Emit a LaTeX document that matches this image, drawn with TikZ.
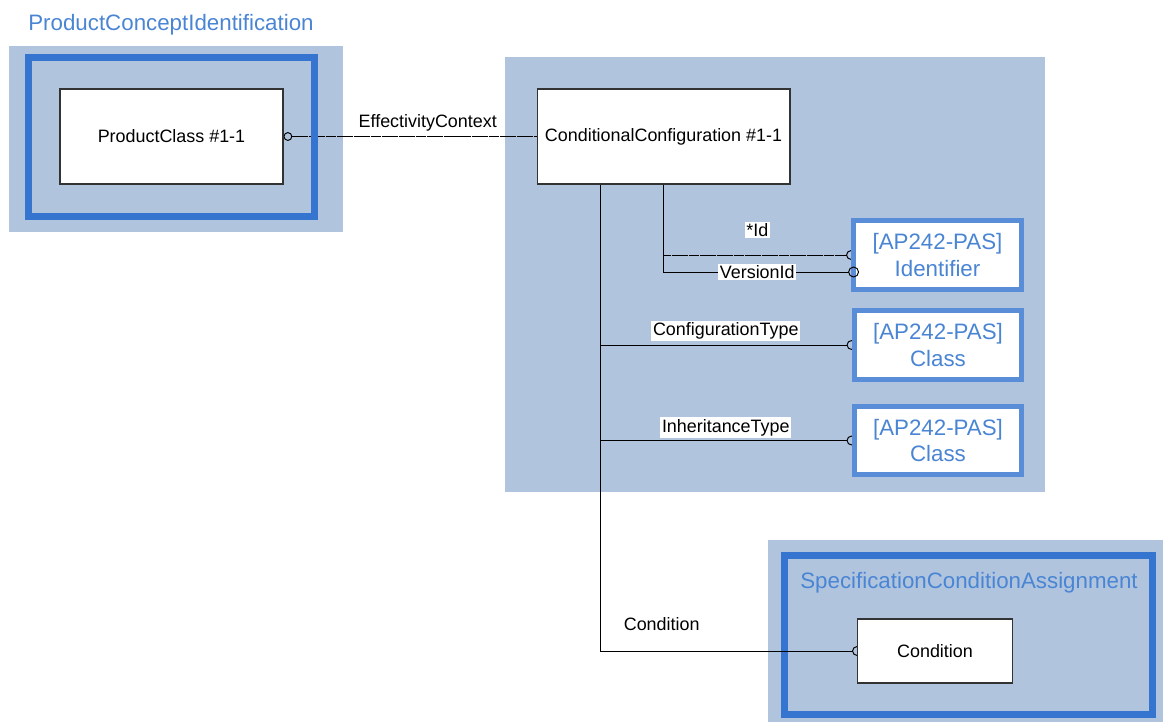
\documentclass[tikz,border=0pt]{standalone}
\usepackage{fontspec}
\setmainfont{Liberation Sans}
\usetikzlibrary{arrows.meta}
\definecolor{PCIback}{HTML}{B0C4DE}
\definecolor{PCIframe}{HTML}{3575D0}
\definecolor{PCIref}{HTML}{5A8DD8}
\definecolor{PCItext}{HTML}{4A85D4}
\pgfdeclarelayer{bg}
\pgfdeclarelayer{wires}
\pgfsetlayers{bg,wires,main}

\begin{document}
\begin{tikzpicture}[
  x=0.02cm, y=-0.02cm,
  entity/.style={draw=black!80, fill=white, line width=0.6pt,
    minimum height=1.9cm, font=\fontsize{10.2}{12}\selectfont},
  refbox/.style={draw=PCIref, fill=white, line width=0.1cm,
    minimum width=3.36cm, minimum height=1.38cm, align=center,
    text=PCItext, font=\fontsize{12.7}{15}\selectfont, inner sep=1pt},
  group/.style={fill=PCIback},
  frame/.style={draw=PCIframe, line width=0.14cm},
  title/.style={text=PCItext, font=\fontsize{12.7}{15}\selectfont},
  wire/.style={line width=0.55pt},
  optwire/.style={wire, dash pattern=on 3pt off 0.2pt},
  tag/.style={font=\fontsize{10.2}{12}\selectfont, fill=white, inner sep=1pt},
  half/.style={-{Circle[open, length=5.6pt, width=5.6pt]}, shorten >=-2.8pt}
]
\useasboundingbox (0,0) rectangle (1163,722);

% groups and their titles
\node[title] (pcititle) at (171,25) {ProductConceptIdentification};
\node[title] (scatitle) at (969,583) {SpecificationConditionAssignment};

% entities
\node[entity, minimum width=4.46cm] (pc) at (171.5,136.5) {ProductClass \#1-1};
\node[entity, minimum width=5.06cm] (cc) at (663.5,136.5) {ConditionalConfiguration \#1-1};
\node[entity, minimum width=3.1cm, minimum height=1.28cm] (cond) at (935,651) {Condition};
\node[refbox] (ident) at (937.5,255) {[AP242-PAS]\\Identifier};
\node[refbox] (class1) at (938,345) {[AP242-PAS]\\Class};
\node[refbox] (class2) at (938,440.5) {[AP242-PAS]\\Class};

\coordinate (trunk) at (600,184);

\begin{pgfonlayer}{bg}
  \fill[group] (9,46) rectangle (343,232);
  \fill[group] (505,57) rectangle (1045,492);
  \fill[group] (768,540) rectangle (1163,722);
  \draw[optwire, {Circle[open, length=5pt, width=5pt]}-] (pc.east) --
    node[tag, above=2pt, pos=0.57, fill=none] (effctx) {EffectivityContext} (cc.west);
  \draw[frame] (28.5,57.5) rectangle (314.5,216.5);
  \draw[frame] (784.5,555.5) rectangle (1152.5,714.5);
\end{pgfonlayer}

\begin{pgfonlayer}{wires}
  \draw[optwire, half] (cc.south) |-
    node[tag, pos=0.75, yshift=0.5cm] (idtag) {*Id} (ident.west);
  \draw[wire, half] (trunk) |-
    node[tag, pos=0.62, yshift=0.54cm, fill=none] (condtag) {Condition} (cond.west);
  \draw[wire, half] (trunk |- class1) --
    node[tag, yshift=0.28cm] (cfgtag) {ConfigurationType} (class1.west);
  \draw[wire, half] (trunk |- class2) --
    node[tag, yshift=0.26cm] (inhtag) {InheritanceType} (class2.west);
\end{pgfonlayer}

\draw[wire, -{Circle[open, length=6.2pt, width=6.2pt]}, shorten >=-0.16cm]
  (cc.south) |- node[tag, pos=0.75] (vertag) {VersionId} ([yshift=-0.34cm]ident.west);
\end{tikzpicture}
\end{document}
